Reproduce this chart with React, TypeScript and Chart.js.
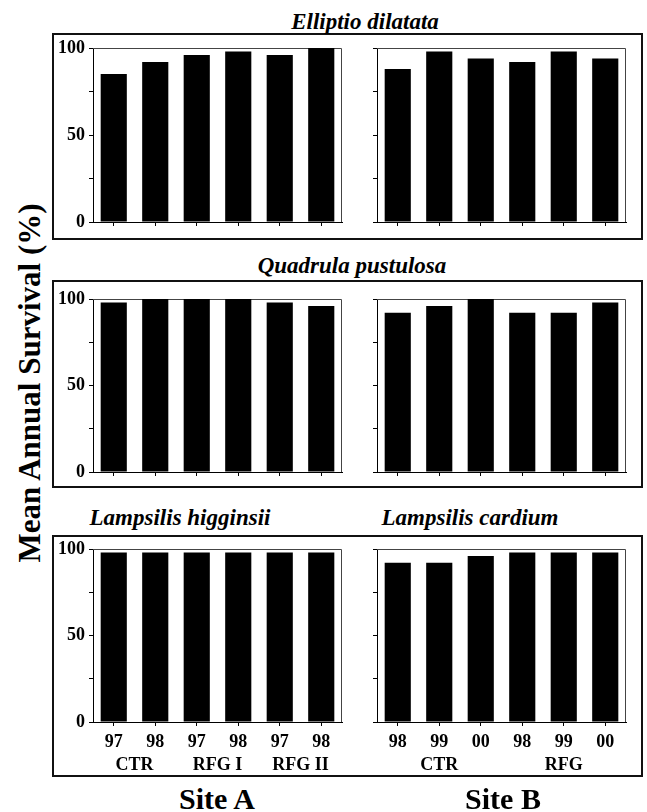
import React, { useEffect, useRef } from "react";
import { Chart, registerables } from "chart.js";

Chart.register(...registerables);

// ---- data ----
const siteACategories = ["97", "98", "97", "98", "97", "98"];
const siteBCategories = ["98", "99", "00", "98", "99", "00"];
const siteAGroups = ["CTR", "RFG I", "RFG II"];
const siteBGroups = ["CTR", "RFG"];
const yTickLabels = [0, 50, 100];
const yStep = 25;

const ellipioSiteA = [85, 92, 96, 98, 96, 100];
const ellipioSiteB = [88, 98, 94, 92, 98, 94];
const quadrulaSiteA = [98, 100, 100, 100, 98, 96];
const quadrulaSiteB = [92, 96, 100, 92, 92, 98];
const higginsiiSiteA = [98, 98, 98, 98, 98, 98];
const cardiumSiteB = [92, 92, 96, 98, 98, 98];

const FONT = "'Liberation Serif', 'Times New Roman', Times, serif";

const framePlugin = {
  id: "frame",
  beforeDatasetsDraw(chart: any) {
    const { ctx, chartArea } = chart;
    ctx.save();
    ctx.strokeStyle = "#444";
    ctx.lineWidth = 1;
    ctx.beginPath();
    ctx.moveTo(chartArea.left, chartArea.top + 0.5);
    ctx.lineTo(chartArea.right - 0.5, chartArea.top + 0.5);
    ctx.lineTo(chartArea.right - 0.5, chartArea.bottom);
    ctx.stroke();
    ctx.restore();
  },
};

type PanelProps = {
  values: number[];
  categories: string[];
  groups?: string[];
  showY: boolean;
  plotLeft: number;
  plotRight: number;
  plotTop: number;
  plotBottom: number;
};

const Y_W = 40;
const PAD_TOP = 18;
const PAD_RIGHT = 8;

function Panel(p: PanelProps) {
  const ref = useRef<HTMLCanvasElement | null>(null);
  const showX = !!p.groups;
  const xH = showX ? 32 : 18;
  const x2H = showX ? 24 : 0;
  const left = p.plotLeft - Y_W;
  const top = p.plotTop - PAD_TOP;
  const width = p.plotRight + PAD_RIGHT - left;
  const height = p.plotBottom - p.plotTop + PAD_TOP + xH + x2H;

  useEffect(() => {
    if (!ref.current) return;
    const tickFont = { family: FONT, size: 18, weight: "bold" as const };
    const xFont = { family: FONT, size: 18, weight: "bold" as const };
    const scales: any = {
      x: {
        type: "category",
        offset: true,
        grid: {
          offset: false,
          drawOnChartArea: false,
          drawTicks: true,
          tickLength: 4,
          color: "#000",
          lineWidth: 1,
        },
        border: { display: true, color: "#000", width: 1 },
        ticks: {
          display: showX,
          padding: 6,
          color: "#000",
          font: xFont,
          maxRotation: 0,
          autoSkip: false,
        },
        afterFit: (s: any) => {
          s.height = xH;
        },
      },
      y: {
        min: 0,
        max: 100,
        ticks: {
          stepSize: yStep,
          padding: 4,
          color: "#000",
          font: tickFont,
          callback: (v: any) =>
            p.showY && yTickLabels.includes(Number(v)) ? String(v) : "",
        },
        grid: {
          drawOnChartArea: false,
          drawTicks: true,
          tickLength: 4,
          color: "#000",
        },
        border: { display: true, color: "#000", width: 1 },
        afterFit: (s: any) => {
          s.width = Y_W;
        },
      },
    };
    if (p.groups) {
      scales.x2 = {
        type: "category",
        labels: p.groups,
        position: "bottom",
        offset: true,
        grid: { display: false, drawTicks: false, drawOnChartArea: false },
        border: { display: false },
        ticks: {
          padding: 1,
          color: "#000",
          font: xFont,
          maxRotation: 0,
          autoSkip: false,
        },
        afterFit: (s: any) => {
          s.height = x2H;
        },
      };
    }
    const chart = new Chart(ref.current, {
      type: "bar",
      data: {
        labels: p.categories,
        datasets: [
          {
            data: p.values,
            backgroundColor: "#000",
            borderWidth: 0,
            barPercentage: 0.63,
            categoryPercentage: 1,
            xAxisID: "x",
            yAxisID: "y",
          } as any,
        ],
      },
      options: {
        animation: false,
        responsive: false,
        maintainAspectRatio: false,
        layout: { padding: { top: PAD_TOP, right: PAD_RIGHT, left: 0, bottom: 0 } },
        plugins: {
          legend: { display: false },
          tooltip: { enabled: false },
          title: { display: false },
        },
        scales,
      },
      plugins: [framePlugin],
    });
    return () => chart.destroy();
  }, []);

  return (
    <canvas
      ref={ref}
      width={width}
      height={height}
      style={{ position: "absolute", left, top, width, height }}
    />
  );
}

const boxStyle = (top: number, height: number): React.CSSProperties => ({
  position: "absolute",
  left: 52,
  top,
  width: 591,
  height,
  border: "2px solid #111",
  boxSizing: "border-box",
});

const titleStyle = (cx: number, top: number): React.CSSProperties => ({
  position: "absolute",
  left: cx,
  top,
  transform: "translateX(-50%)",
  fontFamily: FONT,
  fontSize: 23,
  fontWeight: "bold",
  fontStyle: "italic",
  lineHeight: 1,
  whiteSpace: "nowrap",
  color: "#000",
});

const siteStyle = (cx: number): React.CSSProperties => ({
  position: "absolute",
  left: cx,
  top: 784,
  transform: "translateX(-50%)",
  fontFamily: FONT,
  fontSize: 30,
  fontWeight: "bold",
  lineHeight: 1,
  whiteSpace: "nowrap",
  color: "#000",
});

export default function App() {
  const L = { plotLeft: 93, plotRight: 342 };
  const R = { plotLeft: 377, plotRight: 626 };
  const row1 = { plotTop: 48, plotBottom: 222 };
  const row2 = { plotTop: 299, plotBottom: 472 };
  const row3 = { plotTop: 549, plotBottom: 722 };
  return (
    <div
      style={{
        position: "absolute",
        left: 0,
        top: 0,
        width: 647,
        height: 812,
        background: "#fff",
        overflow: "hidden",
      }}
    >
      <div style={boxStyle(33, 207)} />
      <div style={boxStyle(280, 208)} />
      <div style={boxStyle(535, 242)} />

      <div style={titleStyle(365, 10)}>Elliptio dilatata</div>
      <div style={titleStyle(352, 254)}>Quadrula pustulosa</div>
      <div style={titleStyle(180, 506)}>Lampsilis higginsii</div>
      <div style={titleStyle(470, 506)}>Lampsilis cardium</div>

      <Panel values={ellipioSiteA} categories={siteACategories} showY={true} {...L} {...row1} />
      <Panel values={ellipioSiteB} categories={siteBCategories} showY={false} {...R} {...row1} />
      <Panel values={quadrulaSiteA} categories={siteACategories} showY={true} {...L} {...row2} />
      <Panel values={quadrulaSiteB} categories={siteBCategories} showY={false} {...R} {...row2} />
      <Panel values={higginsiiSiteA} categories={siteACategories} groups={siteAGroups} showY={true} {...L} {...row3} />
      <Panel values={cardiumSiteB} categories={siteBCategories} groups={siteBGroups} showY={false} {...R} {...row3} />

      <div
        style={{
          position: "absolute",
          left: 29 - 200,
          top: 383 - 15,
          width: 400,
          height: 30,
          transform: "rotate(-90deg)",
          transformOrigin: "50% 50%",
          textAlign: "center",
          fontFamily: FONT,
          fontSize: 31,
          fontWeight: "bold",
          lineHeight: 1,
          whiteSpace: "nowrap",
          color: "#000",
        }}
      >
        Mean Annual Survival (%)
      </div>

      <div style={siteStyle(217)}>Site A</div>
      <div style={siteStyle(503)}>Site B</div>
    </div>
  );
}
